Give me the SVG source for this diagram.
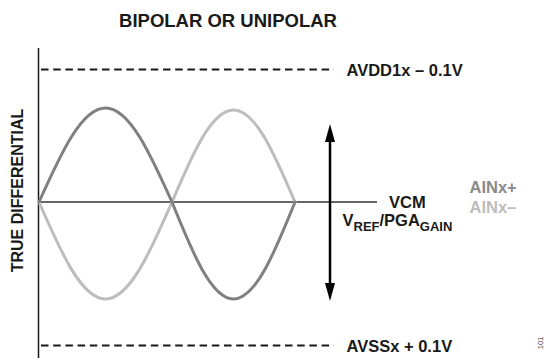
<svg xmlns="http://www.w3.org/2000/svg" width="548" height="358" viewBox="0 0 548 358">
<style>
.t{font-family:"Liberation Sans",Arial,sans-serif;font-weight:bold;fill:#1a1a1a}
.lbl{font-size:16.5px}
.sub{font-size:13px}
.dash{stroke:#1a1a1a;stroke-width:1.9;stroke-dasharray:7.5 4.7;fill:none}
.wave{fill:none;stroke-width:3;stroke-linecap:round}
</style>
<defs>
<marker id="ah" markerUnits="userSpaceOnUse" markerWidth="18" markerHeight="10" viewBox="0 0 18 10" refX="0" refY="5" orient="auto-start-reverse">
<path d="M0,0 L18,5 L0,10 Z" fill="#000"/>
</marker>
</defs>
<rect width="548" height="358" fill="#fff"/>
<text class="t" x="228" y="26.5" font-size="18.5" text-anchor="middle">BIPOLAR OR UNIPOLAR</text>
<g id="axis">
<line x1="38.5" y1="48" x2="38.5" y2="358" stroke="#1a1a1a" stroke-width="1.5"/>
<text class="t" transform="translate(23 190.5) rotate(-90)" font-size="16" text-anchor="middle">TRUE DIFFERENTIAL</text>
</g>
<g id="avdd">
<line class="dash" x1="41" y1="69.5" x2="334" y2="69.5"/>
<text class="t lbl" x="346.5" y="76">AVDD1x – 0.1V</text>
</g>
<g id="avss">
<line class="dash" x1="41" y1="345.5" x2="334" y2="345.5"/>
<text class="t lbl" x="346.5" y="351.5">AVSSx + 0.1V</text>
</g>
<g id="vcm">
<line x1="38" y1="202" x2="377" y2="202" stroke="#333" stroke-width="1.5"/>
<text class="t lbl" x="389" y="207.5">VCM</text>
<text class="t lbl" x="342.5" y="226">V<tspan class="sub" dy="5">REF</tspan><tspan dy="-5">/PGA</tspan><tspan class="sub" dy="5">GAIN</tspan></text>
</g>
<g id="ain-minus">
<path class="wave" stroke="#bdbdbd" d="M39,202 C60.7,251.7 81.4,299 105.5,299 C129.6,299 150.3,251.7 172,202 C192.1,154.9 211.2,110 233.5,110 C255.8,110 274.9,154.9 295,202"/>
<text class="t lbl" x="469.5" y="212.5" style="fill:#bdbdbd">AINx–</text>
</g>
<g id="ain-plus">
<path class="wave" stroke="#808080" d="M39,202 C60.7,153.8 81.4,108 105.5,108 C129.6,108 150.3,153.8 172,202 C192.1,251.7 211.2,299 233.5,299 C255.8,299 274.9,251.7 295,202"/>
<text class="t lbl" x="469.5" y="192.5" style="fill:#8a8a8a">AINx+</text>
</g>
<g id="connectors">
<line x1="330" y1="142" x2="330" y2="283" stroke="#000" stroke-width="2.5" marker-start="url(#ah)" marker-end="url(#ah)"/>
</g>
<text class="t" transform="translate(543 343) rotate(-90)" font-size="7.5" style="font-weight:normal;fill:#333" text-anchor="middle">101</text>
</svg>
